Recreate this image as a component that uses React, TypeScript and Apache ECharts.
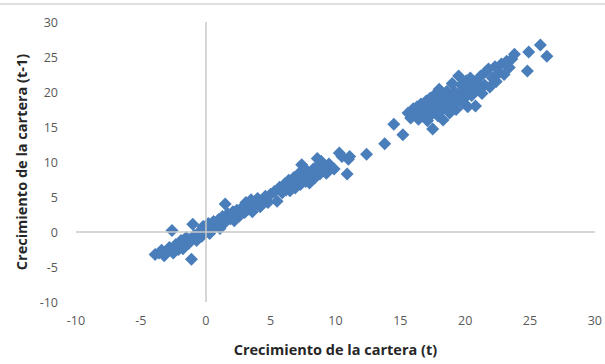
import React, { useEffect, useRef } from "react";
import * as echarts from "echarts";

const xTicks = [-10, -5, 0, 5, 10, 15, 20, 25, 30];
const yTicks = [-10, -5, 0, 5, 10, 15, 20, 25, 30];
const xAxisTitle = "Crecimiento de la cartera (t)";
const yAxisTitle = "Crecimiento de la cartera (t-1)";

const lowPoints: number[][] = [
  [-3.9, -3.2], [-3.6, -3.0], [-3.4, -2.6], [-3.2, -3.4], [-3.0, -2.8], [-2.8, -2.2],
  [-2.6, 0.2], [-2.5, -3.0], [-2.3, -1.8], [-2.1, -2.5], [-1.9, -1.2], [-1.75, -2.4],
  [-1.5, -0.8], [-1.3, -1.6], [-1.1, -3.9], [-1.0, 1.1], [-0.9, -0.5], [-0.7, -1.2],
  [-0.5, 0.0], [-0.3, -0.6], [-0.2, 0.8], [0.0, 0.3], [0.2, 1.2], [0.3, -0.2], [0.5, 0.6],
];

const smallPoints: number[][] = [
  [0.6, 1.5], [0.8, 0.9], [1.0, 1.8], [1.1, 0.5], [1.3, 2.2], [1.5, 4.0], [1.5, 1.4],
  [1.7, 2.6], [1.9, 1.9], [2.1, 2.9], [2.2, 1.6], [2.4, 3.1], [2.6, 2.3], [2.8, 3.5],
  [3.0, 2.8], [3.1, 4.2], [3.3, 3.3], [3.5, 4.6], [3.6, 2.9], [3.8, 3.9], [4.0, 4.8],
  [4.2, 3.6], [4.4, 4.3], [4.6, 5.1], [4.8, 4.2], [5.0, 5.4],
];

const midPoints: number[][] = [
  [5.3, 5.8], [5.5, 4.4], [5.7, 6.4], [5.9, 5.6], [6.1, 6.9], [6.2, 6.0], [6.4, 7.4],
  [6.5, 5.9], [6.6, 6.6], [6.8, 7.8], [6.9, 6.3], [7.0, 7.1], [7.2, 8.4], [7.3, 6.8],
  [7.4, 7.6], [7.4, 9.6], [7.6, 9.1], [7.7, 7.2], [7.9, 8.0], [8.0, 7.0], [8.2, 8.6],
  [8.4, 7.7], [8.6, 9.4], [8.6, 10.5], [8.8, 8.3], [8.9, 10.1], [9.1, 9.0], [9.3, 8.4],
  [9.5, 9.7], [9.7, 9.2], [9.9, 9.0], [6.3, 6.4], [6.7, 7.2], [7.1, 7.7], [7.8, 8.6],
  [8.3, 9.0], [5.8, 6.1],
];

const sparsePoints: number[][] = [
  [10.3, 11.3], [10.5, 10.8], [10.9, 8.3], [11.0, 10.4], [11.1, 10.8], [12.4, 11.1],
  [13.8, 12.6], [14.5, 15.4], [15.2, 13.9],
];

const highPoints: number[][] = [
  [15.6, 17.0], [15.8, 16.3], [16.0, 17.6], [16.1, 16.8], [16.3, 17.9], [16.4, 16.1],
  [16.6, 18.3], [16.7, 17.2], [16.8, 16.5], [17.0, 18.7], [17.0, 17.5], [17.1, 15.9],
  [17.3, 19.1], [17.3, 18.0], [17.4, 16.8], [17.5, 14.7], [17.6, 19.5], [17.7, 17.6],
  [17.8, 18.4], [17.9, 16.6], [18.0, 20.4], [18.0, 19.0], [18.1, 17.3], [18.2, 18.2],
  [18.3, 16.0], [18.4, 19.6], [18.5, 17.8], [18.6, 20.1], [18.7, 18.7], [18.8, 17.0],
  [18.9, 19.3], [19.0, 21.2], [19.1, 18.1], [19.2, 20.0], [19.3, 17.5], [19.4, 18.9],
  [19.5, 22.3], [19.6, 19.6], [19.7, 21.0], [19.8, 18.4], [19.9, 20.5], [20.0, 19.2],
  [20.1, 21.6], [20.2, 17.9], [20.3, 20.2], [20.4, 22.0], [20.5, 19.5], [20.6, 20.9],
  [20.8, 18.0], [20.9, 21.4], [21.0, 20.3], [21.2, 22.3], [21.3, 19.8], [21.5, 21.0],
  [21.6, 22.9], [21.8, 23.3], [21.9, 20.7], [22.1, 22.0], [22.3, 23.6], [22.4, 21.5],
  [22.6, 22.7], [22.8, 24.0], [23.0, 22.5], [23.2, 24.4], [23.4, 23.5], [23.6, 24.7],
  [23.8, 25.4], [24.8, 23.0], [24.9, 25.7], [25.8, 26.7], [26.3, 25.1],
];

const allPoints = [...lowPoints, ...smallPoints, ...midPoints, ...sparsePoints, ...highPoints];

export default function App() {
  const ref = useRef<HTMLDivElement>(null);
  useEffect(() => {
    if (!ref.current) return;
    const chart = echarts.init(ref.current, undefined, { renderer: "svg" });
    const labelStyle = { color: "#595959", fontSize: 12.5, fontFamily: "Open Sans" };
    const titleStyle = { color: "#262626", fontSize: 14.5, fontWeight: "bold", fontFamily: "Open Sans" };
    chart.setOption({
      animation: false,
      backgroundColor: "#ffffff",
      grid: { left: 76, right: 10, top: 22, bottom: 62 },
      graphic: [
        {
          type: "line",
          shape: { x1: 0, y1: 4, x2: 605, y2: 4 },
          style: { stroke: "#d4d4d4", lineWidth: 1.5 },
        },
      ],
      xAxis: {
        type: "value",
        min: xTicks[0],
        max: xTicks[xTicks.length - 1],
        interval: 5,
        axisLine: { show: false },
        axisTick: { show: false },
        splitLine: { show: false },
        axisLabel: { ...labelStyle, margin: 12 },
        name: xAxisTitle,
        nameLocation: "middle",
        nameGap: 40,
        nameTextStyle: titleStyle,
      },
      yAxis: {
        type: "value",
        min: yTicks[0],
        max: yTicks[yTicks.length - 1],
        interval: 5,
        axisLine: { show: false },
        axisTick: { show: false },
        splitLine: { show: false },
        axisLabel: { ...labelStyle, margin: 18 },
        name: yAxisTitle,
        nameLocation: "middle",
        nameGap: 44,
        nameTextStyle: titleStyle,
      },
      series: [
        {
          type: "scatter",
          data: [],
          z: 1,
          silent: true,
          markLine: {
            silent: true,
            symbol: "none",
            label: { show: false },
            lineStyle: { color: "#c8c8c8", width: 1.5, type: "solid" },
            data: [{ xAxis: 0 }, { yAxis: 0 }],
          },
        },
        {
          type: "scatter",
          z: 2,
          symbol: "diamond",
          symbolSize: 13,
          itemStyle: { color: "#4a7ebb", opacity: 1 },
          data: allPoints,
        },
      ],
    });
    return () => chart.dispose();
  }, []);
  return (
    <div
      ref={ref}
      style={{ position: "fixed", left: 0, top: 0, width: 605, height: 364 }}
    />
  );
}
